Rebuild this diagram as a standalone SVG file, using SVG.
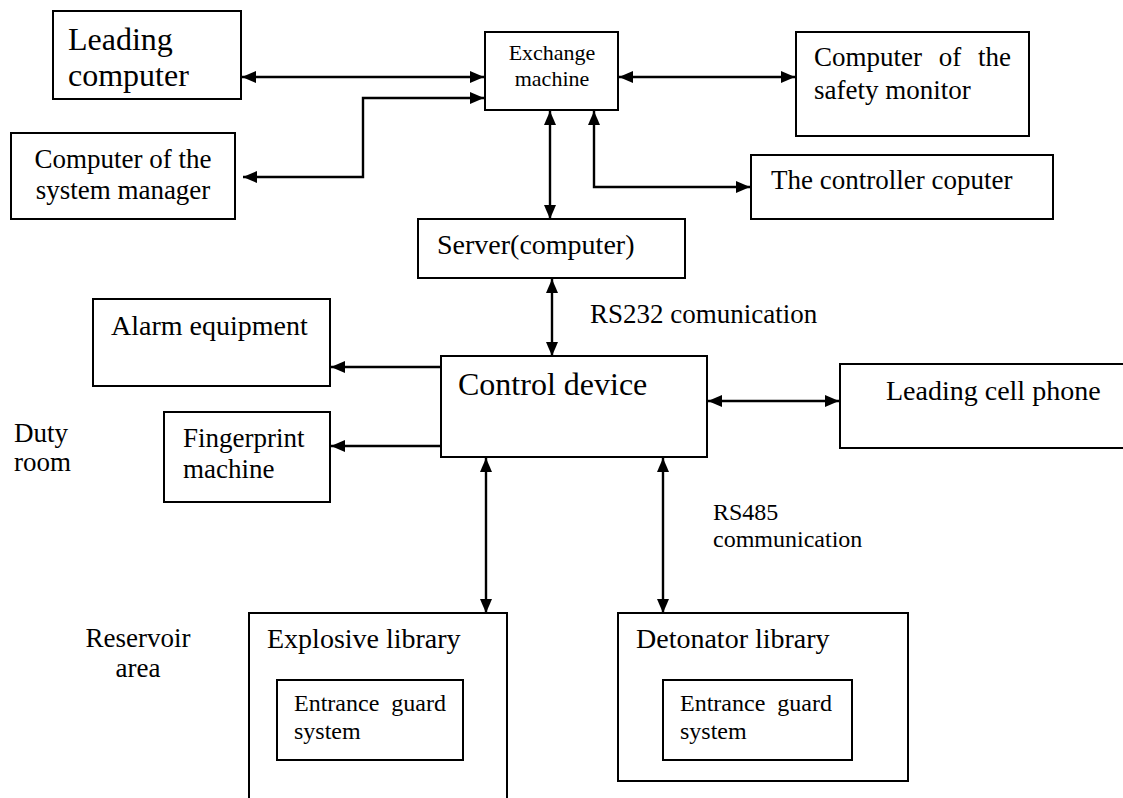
<svg xmlns="http://www.w3.org/2000/svg" width="1123" height="798" viewBox="0 0 1123 798">
<style>
.box{fill:#fff;stroke:#000;stroke-width:2}
.t{font-family:"Liberation Serif","Times New Roman",serif;fill:#000;font-size:27px}
.t22{font-size:22px}
.t24{font-size:24px}
.t28{font-size:28px}
.t32{font-size:32px}
.c{fill:none;stroke:#000;stroke-width:2.4}
</style>
<defs>
<marker id="ah" viewBox="0 0 14 12" refX="14" refY="6" markerWidth="14" markerHeight="12" markerUnits="userSpaceOnUse" orient="auto-start-reverse">
<path d="M0,0 L14,6 L0,12 z" fill="#000"/>
</marker>
</defs>
<rect width="1123" height="798" fill="#fff"/>
<g id="connectors">
<line class="c" x1="242" y1="77" x2="484" y2="77" marker-start="url(#ah)" marker-end="url(#ah)"/>
<path class="c" d="M243,177 H363 V98 H484" marker-start="url(#ah)" marker-end="url(#ah)"/>
<line class="c" x1="619" y1="77" x2="795" y2="77" marker-start="url(#ah)" marker-end="url(#ah)"/>
<line class="c" x1="550" y1="111" x2="550" y2="219" marker-start="url(#ah)" marker-end="url(#ah)"/>
<path class="c" d="M594,111 V187 H750" marker-start="url(#ah)" marker-end="url(#ah)"/>
<line class="c" x1="552" y1="279" x2="552" y2="356" marker-start="url(#ah)" marker-end="url(#ah)"/>
<path class="c" d="M441,367 H331" marker-end="url(#ah)"/>
<path class="c" d="M441,446 H331" marker-end="url(#ah)"/>
<line class="c" x1="708" y1="401" x2="839" y2="401" marker-start="url(#ah)" marker-end="url(#ah)"/>
<line class="c" x1="486" y1="458" x2="486" y2="613" marker-start="url(#ah)" marker-end="url(#ah)"/>
<line class="c" x1="663" y1="458" x2="663" y2="613" marker-start="url(#ah)" marker-end="url(#ah)"/>
</g>
<g id="leading-computer">
<rect class="box" x="53" y="11" width="188" height="88"/>
<text class="t t32" x="68" y="50">Leading</text>
<text class="t t32" x="68" y="86">computer</text>
</g>
<g id="exchange-machine">
<rect class="box" x="485" y="32" width="133" height="78"/>
<text class="t t22" x="552" y="60" text-anchor="middle">Exchange</text>
<text class="t t22" x="552" y="86" text-anchor="middle">machine</text>
</g>
<g id="safety-monitor">
<rect class="box" x="796" y="32" width="233" height="104"/>
<text class="t" x="814" y="66" word-spacing="10">Computer of the</text>
<text class="t" x="814" y="99">safety monitor</text>
</g>
<g id="system-manager">
<rect class="box" x="11" y="133" width="224" height="86"/>
<text class="t" x="123" y="168" text-anchor="middle">Computer of the</text>
<text class="t" x="123" y="199" text-anchor="middle">system manager</text>
</g>
<g id="controller-computer">
<rect class="box" x="751" y="155" width="302" height="64"/>
<text class="t" x="771" y="189">The controller coputer</text>
</g>
<g id="server">
<rect class="box" x="418" y="219" width="267" height="59"/>
<text class="t t28" x="437" y="254">Server(computer)</text>
</g>
<text class="t" x="590" y="323">RS232 comunication</text>
<g id="alarm-equipment">
<rect class="box" x="93" y="299" width="237" height="87"/>
<text class="t t28" x="111" y="335">Alarm equipment</text>
</g>
<g id="control-device">
<rect class="box" x="441" y="356" width="266" height="101"/>
<text class="t t32" x="458" y="395">Control device</text>
</g>
<g id="leading-cell-phone">
<rect class="box" x="840" y="364" width="300" height="84"/>
<text class="t t28" x="886" y="400">Leading cell phone</text>
</g>
<g id="fingerprint-machine">
<rect class="box" x="164" y="412" width="166" height="90"/>
<text class="t" x="183" y="447">Fingerprint</text>
<text class="t" x="183" y="478">machine</text>
</g>
<text class="t" x="14" y="442">Duty</text>
<text class="t" x="14" y="471">room</text>
<text class="t t24" x="713" y="520">RS485</text>
<text class="t t24" x="713" y="547">communication</text>
<text class="t" x="138" y="647" text-anchor="middle">Reservoir</text>
<text class="t" x="138" y="677" text-anchor="middle">area</text>
<g id="explosive-library">
<path class="box" d="M249,810 V613 H507 V810"/>
<text class="t t28" x="267" y="648">Explosive library</text>
<g id="explosive-entrance-guard">
<rect class="box" x="277" y="680" width="186" height="80"/>
<text class="t t24" x="294" y="711" word-spacing="6">Entrance guard</text>
<text class="t t24" x="294" y="739">system</text>
</g>
</g>
<g id="detonator-library">
<rect class="box" x="618" y="613" width="290" height="168"/>
<text class="t t28" x="636" y="648">Detonator library</text>
<g id="detonator-entrance-guard">
<rect class="box" x="663" y="680" width="189" height="80"/>
<text class="t t24" x="680" y="711" word-spacing="6">Entrance guard</text>
<text class="t t24" x="680" y="739">system</text>
</g>
</g>
</svg>
